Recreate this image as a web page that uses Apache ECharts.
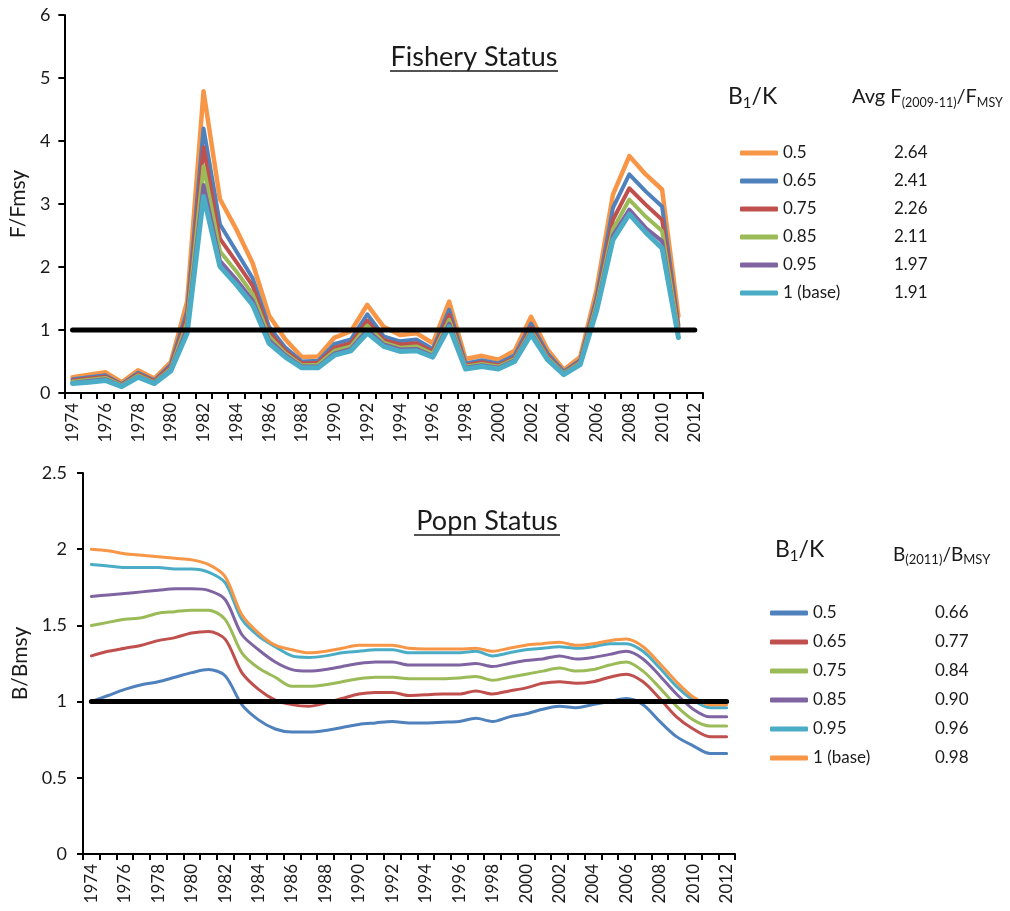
<!DOCTYPE html>
<html><head><meta charset="utf-8">
<script src="https://cdn.jsdelivr.net/npm/echarts@6/dist/echarts.min.js"></script>
<style>
html,body{margin:0;padding:0;background:#fff;}
#topChart{position:absolute;left:0;top:0;width:1010px;height:455px;}
#botChart{position:absolute;left:0;top:455px;width:1010px;height:456px;}
</style>
</head><body><div id="topChart"></div><div id="botChart"></div>
<script>
const years = ['1974','1975','1976','1977','1978','1979','1980','1981','1982','1983','1984','1985','1986','1987','1988','1989','1990','1991','1992','1993','1994','1995','1996','1997','1998','1999','2000','2001','2002','2003','2004','2005','2006','2007','2008','2009','2010','2011','2012'];

// Fishery status F/Fmsy (B1/K scenarios)
const names = ['0.5','0.65','0.75','0.85','0.95','1 (base)'];
const fK050 = [0.25,0.29,0.33,0.17,0.36,0.23,0.49,1.45,4.79,3.08,2.60,2.06,1.23,0.85,0.57,0.58,0.88,0.98,1.40,1.05,0.92,0.95,0.79,1.45,0.54,0.59,0.53,0.67,1.21,0.69,0.37,0.57,1.64,3.15,3.76,3.47,3.23,1.22,null];
const fK065 = [0.22,0.25,0.28,0.14,0.32,0.20,0.45,1.30,4.20,2.68,2.25,1.82,1.05,0.72,0.50,0.51,0.78,0.85,1.25,0.90,0.82,0.85,0.70,1.32,0.47,0.52,0.47,0.60,1.10,0.63,0.34,0.52,1.52,2.94,3.47,3.20,2.96,1.08,null];
const fK075 = [0.20,0.23,0.26,0.13,0.30,0.19,0.42,1.22,3.90,2.45,2.08,1.70,0.97,0.67,0.47,0.48,0.72,0.79,1.15,0.84,0.77,0.79,0.66,1.24,0.44,0.49,0.44,0.56,1.04,0.59,0.32,0.50,1.45,2.75,3.25,2.99,2.75,1.04,null];
const fK085 = [0.18,0.21,0.24,0.12,0.28,0.17,0.39,1.12,3.60,2.25,1.93,1.57,0.90,0.63,0.44,0.45,0.67,0.74,1.07,0.80,0.72,0.74,0.62,1.16,0.42,0.46,0.42,0.54,0.99,0.56,0.31,0.48,1.40,2.60,3.07,2.80,2.57,0.96,null];
const fK095 = [0.16,0.19,0.22,0.11,0.26,0.16,0.37,1.03,3.30,2.10,1.80,1.47,0.84,0.60,0.42,0.42,0.63,0.70,1.00,0.77,0.69,0.70,0.59,1.10,0.40,0.44,0.40,0.52,0.96,0.54,0.30,0.46,1.34,2.50,2.91,2.62,2.41,0.88,null];
const fK100 = [0.15,0.17,0.20,0.10,0.25,0.15,0.35,0.95,3.12,2.01,1.72,1.40,0.79,0.57,0.40,0.40,0.60,0.67,0.95,0.74,0.66,0.67,0.57,1.05,0.38,0.42,0.38,0.50,0.93,0.53,0.29,0.45,1.30,2.43,2.84,2.55,2.30,0.88,null];
const fAvg = ['2.64','2.41','2.26','2.11','1.97','1.91'];

// Population status B/Bmsy
const bK050 = [1.00,1.04,1.08,1.11,1.13,1.16,1.19,1.21,1.17,0.98,0.88,0.82,0.80,0.80,0.81,0.83,0.85,0.86,0.87,0.86,0.86,0.865,0.87,0.89,0.87,0.90,0.92,0.95,0.97,0.96,0.98,1.00,1.02,0.98,0.87,0.77,0.71,0.66,0.66];
const bK065 = [1.30,1.33,1.35,1.37,1.40,1.42,1.45,1.46,1.41,1.19,1.08,1.01,0.98,0.97,0.99,1.02,1.05,1.06,1.06,1.04,1.045,1.05,1.05,1.07,1.05,1.07,1.09,1.12,1.13,1.12,1.13,1.16,1.18,1.13,1.02,0.90,0.82,0.77,0.77];
const bK075 = [1.50,1.52,1.54,1.55,1.58,1.59,1.60,1.60,1.54,1.32,1.22,1.16,1.10,1.10,1.11,1.13,1.15,1.16,1.16,1.15,1.15,1.15,1.155,1.165,1.14,1.16,1.18,1.20,1.22,1.20,1.21,1.24,1.26,1.20,1.09,0.97,0.88,0.84,0.84];
const bK085 = [1.69,1.70,1.71,1.72,1.73,1.74,1.74,1.73,1.67,1.44,1.34,1.26,1.21,1.20,1.21,1.23,1.25,1.26,1.26,1.24,1.24,1.24,1.24,1.25,1.23,1.25,1.27,1.28,1.30,1.28,1.29,1.31,1.33,1.28,1.17,1.05,0.95,0.90,0.90];
const bK095 = [1.90,1.89,1.88,1.88,1.88,1.87,1.87,1.85,1.78,1.54,1.43,1.36,1.30,1.29,1.30,1.32,1.33,1.34,1.34,1.32,1.32,1.32,1.32,1.33,1.30,1.32,1.34,1.35,1.36,1.35,1.36,1.38,1.38,1.33,1.22,1.10,1.01,0.96,0.96];
const bK100 = [2.00,1.99,1.97,1.96,1.95,1.94,1.93,1.90,1.82,1.57,1.45,1.37,1.34,1.32,1.33,1.35,1.37,1.37,1.37,1.35,1.345,1.345,1.345,1.35,1.33,1.35,1.37,1.38,1.39,1.37,1.38,1.40,1.41,1.36,1.25,1.13,1.03,0.98,0.98];
const b2011 = ['0.66','0.77','0.84','0.90','0.96','0.98'];

const refLine = years.map(() => 1);

const C = {blue:'#4F81BD', red:'#C0504D', green:'#9BBB59', purple:'#8064A2', teal:'#4BACC6', orange:'#F79646'};
const FONT = 'Lato';
const TXT = '#1a1a1a';

function lineSeries(name, data, color, width, smooth) {
  return {name, type:'line', data, symbol:'none', smooth: smooth || false,
    lineStyle:{color, width, cap:'round', join:'round'}, itemStyle:{color}, z:2};
}
function refSeries() {
  return {name:'ref', type:'line', data:refLine, symbol:'none', silent:true,
    lineStyle:{color:'#000', width:5, cap:'round'}, itemStyle:{color:'#000'}, z:5};
}
function xAxisCfg() {
  return {type:'category', data:years, boundaryGap:true,
    axisLine:{lineStyle:{color:'#000', width:2}},
    axisTick:{show:true, interval:0, length:6, lineStyle:{color:'#000', width:2}},
    axisLabel:{interval:1, rotate:90, fontSize:17, color:TXT, fontFamily:FONT, margin:10},
    splitLine:{show:false}};
}
function yAxisCfg(min, max, interval, name, gap, margin) {
  return {type:'value', min, max, interval,
    name, nameLocation:'middle', nameGap:gap, nameTextStyle:{fontFamily:FONT, fontSize:21, color:TXT},
    axisLine:{show:true, lineStyle:{color:'#000', width:2}},
    axisTick:{show:true, length:6, lineStyle:{color:'#000', width:2}},
    axisLabel:{fontSize:18, color:TXT, fontFamily:FONT, margin},
    splitLine:{show:false}};
}
function legendCfg(left, top, gap, nameW, vals) {
  return {orient:'vertical', left, top, padding:0, itemWidth:38, itemHeight:5, icon:'roundRect', itemGap:gap,
    selectedMode:false, data:names,
    formatter: n => '{n|' + n + '}{v|' + vals[names.indexOf(n)] + '}',
    textStyle:{fontFamily:FONT, fontSize:17, color:TXT, lineHeight:18,
      rich:{n:{width:nameW, fontFamily:FONT, fontSize:17, color:TXT}, v:{fontFamily:FONT, fontSize:17, color:TXT}}}};
}
function header(x, y, parts, F, S) {
  const text = parts.map(p => '{' + p[0] + '|' + p[1] + '}').join('');
  return {type:'text', style:{x, y, verticalAlign:'middle', text,
    rich:{a:{fontFamily:FONT, fontSize:F, fill:TXT, lineHeight:F + 4},
          s:{fontFamily:FONT, fontSize:S, fill:TXT, lineHeight:S, verticalAlign:'bottom'}}}};
}

// ---------- Top chart ----------
const chartTop = echarts.init(document.getElementById('topChart'));
chartTop.setOption({
  animation:false,
  grid:{left:63, right:307, top:15, bottom:62},
  xAxis:xAxisCfg(),
  yAxis:yAxisCfg(0, 6, 1, 'F/Fmsy', 28, 14),
  legend:legendCfg(740, 144, 10, 111, fAvg),
  graphic:[
    {type:'text', style:{text:'Fishery Status', x:474, y:57, font:'27px Lato', fill:TXT, align:'center', verticalAlign:'middle'}},
    {type:'line', shape:{x1:390, y1:71, x2:558, y2:71}, style:{stroke:TXT, lineWidth:1.5}},
    header(728, 97, [['a','B'],['s','1'],['a','/K']], 23, 15),
    header(852, 97, [['a','Avg F'],['s','(2009-11)'],['a','/F'],['s','MSY']], 20, 12.5)
  ],
  series:[
    lineSeries('0.5', fK050, C.orange, 4.5),
    lineSeries('0.65', fK065, C.blue, 4),
    lineSeries('0.75', fK075, C.red, 4),
    lineSeries('0.85', fK085, C.green, 4),
    lineSeries('0.95', fK095, C.purple, 4),
    lineSeries('1 (base)', fK100, C.teal, 5),
    refSeries()
  ]
});

// ---------- Bottom chart ----------
const chartBot = echarts.init(document.getElementById('botChart'));
chartBot.setOption({
  animation:false,
  grid:{left:83, right:275, top:18, bottom:57},
  xAxis:xAxisCfg(),
  yAxis:yAxisCfg(0, 2.5, 0.5, 'B/Bmsy', 37, 16),
  legend:legendCfg(770, 149, 11, 122, b2011),
  graphic:[
    {type:'text', style:{text:'Popn Status', x:487, y:66, font:'27px Lato', fill:TXT, align:'center', verticalAlign:'middle'}},
    {type:'line', shape:{x1:414, y1:80, x2:560, y2:80}, style:{stroke:TXT, lineWidth:1.5}},
    header(775, 95, [['a','B'],['s','1'],['a','/K']], 23, 15),
    header(893, 100, [['a','B'],['s','(2011)'],['a','/B'],['s','MSY']], 19, 13)
  ],
  series:[
    lineSeries('0.5', bK050, C.blue, 3, 0.3),
    lineSeries('0.65', bK065, C.red, 3, 0.3),
    lineSeries('0.75', bK075, C.green, 3, 0.3),
    lineSeries('0.85', bK085, C.purple, 3, 0.3),
    lineSeries('0.95', bK095, C.teal, 3, 0.3),
    lineSeries('1 (base)', bK100, C.orange, 3, 0.3),
    refSeries()
  ]
});
</script>
</body></html>
